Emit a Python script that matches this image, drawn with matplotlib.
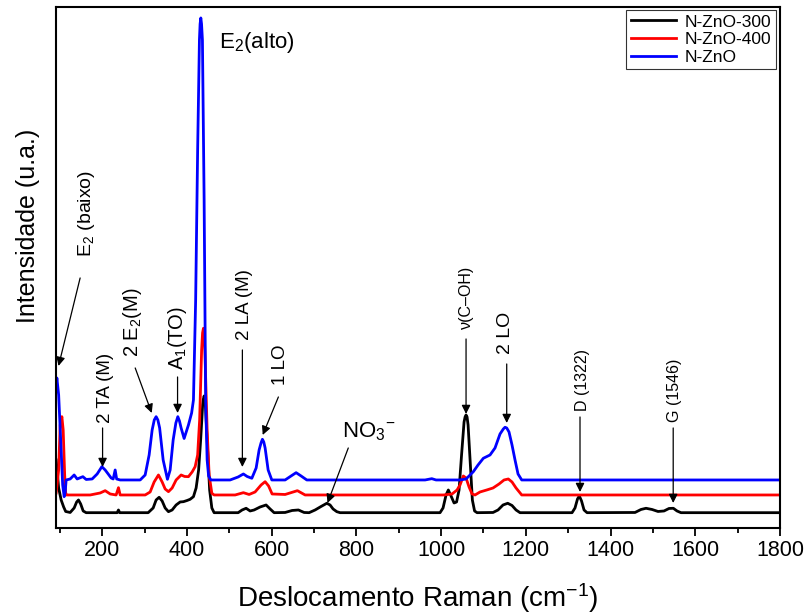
import matplotlib
matplotlib.use('Agg')
from matplotlib import pyplot as plt
from matplotlib.ticker import MultipleLocator

plt.rcParams['font.family'] = ['Liberation Sans', 'DejaVu Sans']
plt.rcParams['mathtext.fontset'] = 'custom'
plt.rcParams['mathtext.rm'] = 'Liberation Sans'
plt.rcParams['mathtext.it'] = 'Liberation Sans:italic'
plt.rcParams['mathtext.default'] = 'regular'

# Raman spectra (cm-1, a.u.), offset for stacking
x_300 = [91.4, 97.3, 103.2, 109.1, 113.9, 124.5, 133.9, 139.8, 144.1, 149.3, 155.2, 162.2,
         235.4, 238.5, 241.3, 308.6, 320.4, 327.4, 334.5, 341.6, 348.7, 356.5, 365.2, 374.6,
         384.1, 391.9, 400.6, 407.7, 415.5, 421.8, 427.7, 432.5, 437.2, 439.0, 440.7, 442.5,
         444.3, 449.0, 453.7, 458.9, 464.3, 521.0, 530.4, 539.8, 549.3, 558.7, 572.9, 587.0,
         596.5, 605.9, 631.9, 648.4, 663.3, 676.7, 688.5, 702.7, 716.8, 730.3, 738.0, 745.1,
         753.9, 761.7, 997.6, 1004.7, 1011.8, 1017.2, 1023.6, 1030.7, 1036.6, 1042.5, 1048.4,
         1054.3, 1056.7, 1059.0, 1061.4, 1063.8, 1069.2, 1073.9, 1079.1, 1085.0, 1122.7, 1134.5,
         1146.3, 1157.4, 1167.5, 1177.0, 1186.4, 1309.2, 1316.2, 1322.1, 1326.4, 1331.6, 1337.5,
         1344.6, 1457.9, 1472.0, 1483.8, 1498.0, 1512.1, 1526.3, 1538.1, 1548.3, 1557.0, 1566.4,
         1800.0]
y_300 = [68, 40, 28, 21, 16.5, 15.5, 20, 26, 28, 24, 17, 15.3,
         15.3, 18, 15.3, 15.3, 20, 28, 30.7, 27, 20, 16.3, 18, 23,
         26, 26.3, 27.5, 28.7, 31.3, 40, 58, 88, 123, 129, 132, 129,
         118, 78, 38, 20, 15.3, 15.3, 18, 19.7, 17, 18, 21, 23,
         19, 15.3, 15.5, 17.5, 18, 15.5, 15.3, 18, 21.5, 24.7, 23, 19,
         16.3, 15.3, 15.3, 20, 33, 38, 32, 25, 26, 38, 73,
         106, 111, 113, 111, 103, 63, 28, 17, 15.3, 15.5, 18,
         23, 24.7, 22.5, 18, 15.3, 15.3, 20, 29, 32, 27, 18,
         15.3, 15.5, 18.5, 19.7, 18.5, 16.5, 17, 19.5, 19.7, 17, 15.3,
         15.3]

x_400 = [91.4, 97.3, 100.9, 104.9, 108.0, 111.5, 113.9, 116.2, 124.5, 171.7, 195.3, 207.1,
         218.9, 233.0, 238.5, 242.5, 301.5, 313.3, 322.7, 332.9, 341.6, 348.7, 356.5, 365.2,
         374.6, 386.4, 394.7, 403.7, 412.4, 419.5, 425.4, 430.1, 434.8, 437.0, 439.1, 441.0,
         443.1, 447.8, 452.5, 458.9, 464.3, 513.9, 533.4, 546.9, 561.0, 575.2, 584.7, 592.9,
         601.2, 631.9, 660.9, 679.1, 1005.4, 1026.0, 1037.8, 1044.8, 1052.6, 1059.0, 1066.1,
         1073.2, 1080.2, 1092.0, 1107.9, 1122.7, 1136.9, 1148.7, 1158.8, 1167.5, 1177.0, 1190.4,
         1800.0]
y_400 = [35, 58, 103, 111.3, 98, 53, 35, 33, 33, 33, 35, 37.3,
         34, 33, 40.3, 33, 33, 36, 46, 53, 46, 39, 36.3, 40,
         48, 53, 51.5, 51.3, 56, 61.3, 73, 108, 178, 195, 199.7, 193,
         168, 98, 53, 34.7, 33, 33, 35.3, 33.5, 36, 43, 46.3, 42,
         34, 33.5, 37.3, 33, 33, 34, 38, 43, 52, 50, 41,
         34, 33, 36, 38, 40, 44, 48, 49, 46, 40, 33,
         33]

x_zno = [91.0, 93.1, 97.3, 102.1, 106.8, 110.3, 112.7, 115.0, 124.5, 133.9, 141.0, 154.5,
         162.2, 176.4, 188.2, 199.3, 207.1, 214.2, 221.2, 226.0, 230.7, 234.2, 242.5, 289.7,
         301.5, 310.9, 318.0, 323.0, 327.4, 331.5, 335.7, 344.0, 354.1, 360.5, 367.6, 374.0,
         378.6, 382.5, 386.4, 393.5, 403.7, 411.2, 415.5, 420.7, 425.4, 429.6, 431.2, 432.9,
         434.6, 436.7, 440.7, 444.3, 447.8, 451.3, 456.5, 502.0, 521.0, 533.4, 542.2, 553.3,
         563.5, 570.5, 575.0, 578.3, 581.5, 584.7, 591.8, 600.5, 631.9, 646.0, 657.8, 669.6,
         683.1, 962.3, 978.1, 988.2, 1044.8, 1059.0, 1076.2, 1087.3, 1099.8, 1115.6, 1127.4,
         1139.2, 1147.0, 1151.0, 1155.0, 1160.4, 1167.5, 1174.6, 1181.7, 1190.4, 1800.0]
y_zno = [138, 150, 133, 88, 43, 31.3, 36, 48, 49, 53, 49, 51.3,
         48.5, 49, 54, 61.3, 58, 54, 50, 49, 58, 49, 48, 48,
         53, 73, 98, 108, 111.3, 108, 100, 68, 48.7, 58, 88, 105,
         111.3, 107, 100, 89.5, 103, 115, 128, 228, 378, 488, 504, 510,
         504, 488, 328, 128, 68, 52, 48, 48, 51, 54, 51.5, 49.7,
         60, 78, 85, 88.7, 86, 80, 58, 48, 48, 52, 55.3, 52,
         48, 48, 49.3, 48, 48, 49, 56.3, 63, 69.7, 73, 80,
         94, 99, 100.7, 100, 96, 83, 68, 54, 48, 48]

labels = ['N-ZnO-300', 'N-ZnO-400', 'N-ZnO']
colors = ['black', 'red', 'blue']

# band assignments: text, text position, arrow tail, arrow head, font size
bands = [
    ('E$_2$ (baixo)', (162, 315), (148, 250), (97, 162), 14),
    ('2 TA (M)', (207, 140), (201, 100), (201, 61), 13.5),
    ('2 E$_2$(M)', (271, 206), (278, 160), (317, 115), 14.5),
    ('A$_1$(TO)', (377, 190), (378, 151), (378, 115), 14.5),
    ('2 LA (M)', (537, 223), (531, 178), (531, 61), 13.5),
    ('1 LO', (622, 163), (616, 131), (579, 93), 13.5),
    ('ν(C–OH)', (1060, 231), (1059, 189), (1059, 114), 11.5),
    ('2 LO', (1153, 195), (1155, 164), (1155, 105), 14),
    ('D (1322)', (1335, 148), (1328, 111), (1328, 36), 11.5),
    ('G (1546)', (1550, 138), (1548, 100), (1548, 25), 11.5),
]

fig = plt.figure(figsize=(8.09, 6.15), dpi=100)
ax = fig.add_axes([0.0692, 0.1415, 0.8949, 0.8472])

for xs, ys, lab, c in zip([x_300, x_400, x_zno], [y_300, y_400, y_zno], labels, colors):
    ax.plot(xs, ys, color=c, lw=2.0, label=lab, solid_joinstyle='round')

arrow_kw = dict(arrowstyle='-|>', color='black', lw=0.9, mutation_scale=13,
                shrinkA=0, shrinkB=0)
for text, (tx, ty), tail, head, fs in bands:
    ax.annotate('', xy=head, xytext=tail, arrowprops=arrow_kw)
    ax.text(tx, ty, text, rotation=90, ha='center', va='center', fontsize=fs)

# horizontal labels
ax.text(476, 485, 'E$_2$(alto)', ha='left', va='center', fontsize=16)
ax.annotate('', xy=(732, 25), xytext=(781, 80), arrowprops=arrow_kw)
ax.text(766, 96, 'NO$_3$$^{-}$', ha='left', va='center', fontsize=16)

ax.set_xlim(91, 1800)
ax.set_ylim(0, 521)
ax.xaxis.set_major_locator(MultipleLocator(200))
ax.xaxis.set_minor_locator(MultipleLocator(100))
ax.set_yticks([])
ax.tick_params(axis='x', which='major', direction='out', length=6, width=1.3,
               labelsize=15.5, pad=3)
ax.tick_params(axis='x', which='minor', direction='out', length=3.5, width=1.3)
for s in ax.spines.values():
    s.set_linewidth(1.5)

ax.set_xlabel('Deslocamento Raman (cm$^{-1}$)', fontsize=20, va='center')
ax.xaxis.set_label_coords(0.5, -0.134)
ax.set_ylabel('Intensidade (u.a.)', fontsize=18, va='center')
ax.yaxis.set_label_coords(-0.039, 0.58)

leg = ax.legend(loc='upper right', bbox_to_anchor=(0.994, 0.994), fontsize=12.5,
                frameon=True, fancybox=False, edgecolor='black', handlelength=2.6,
                labelspacing=0.15, borderpad=0.25, handletextpad=0.5, borderaxespad=0)
leg.get_frame().set_linewidth(0.8)

fig.savefig('out.png', dpi=100)
